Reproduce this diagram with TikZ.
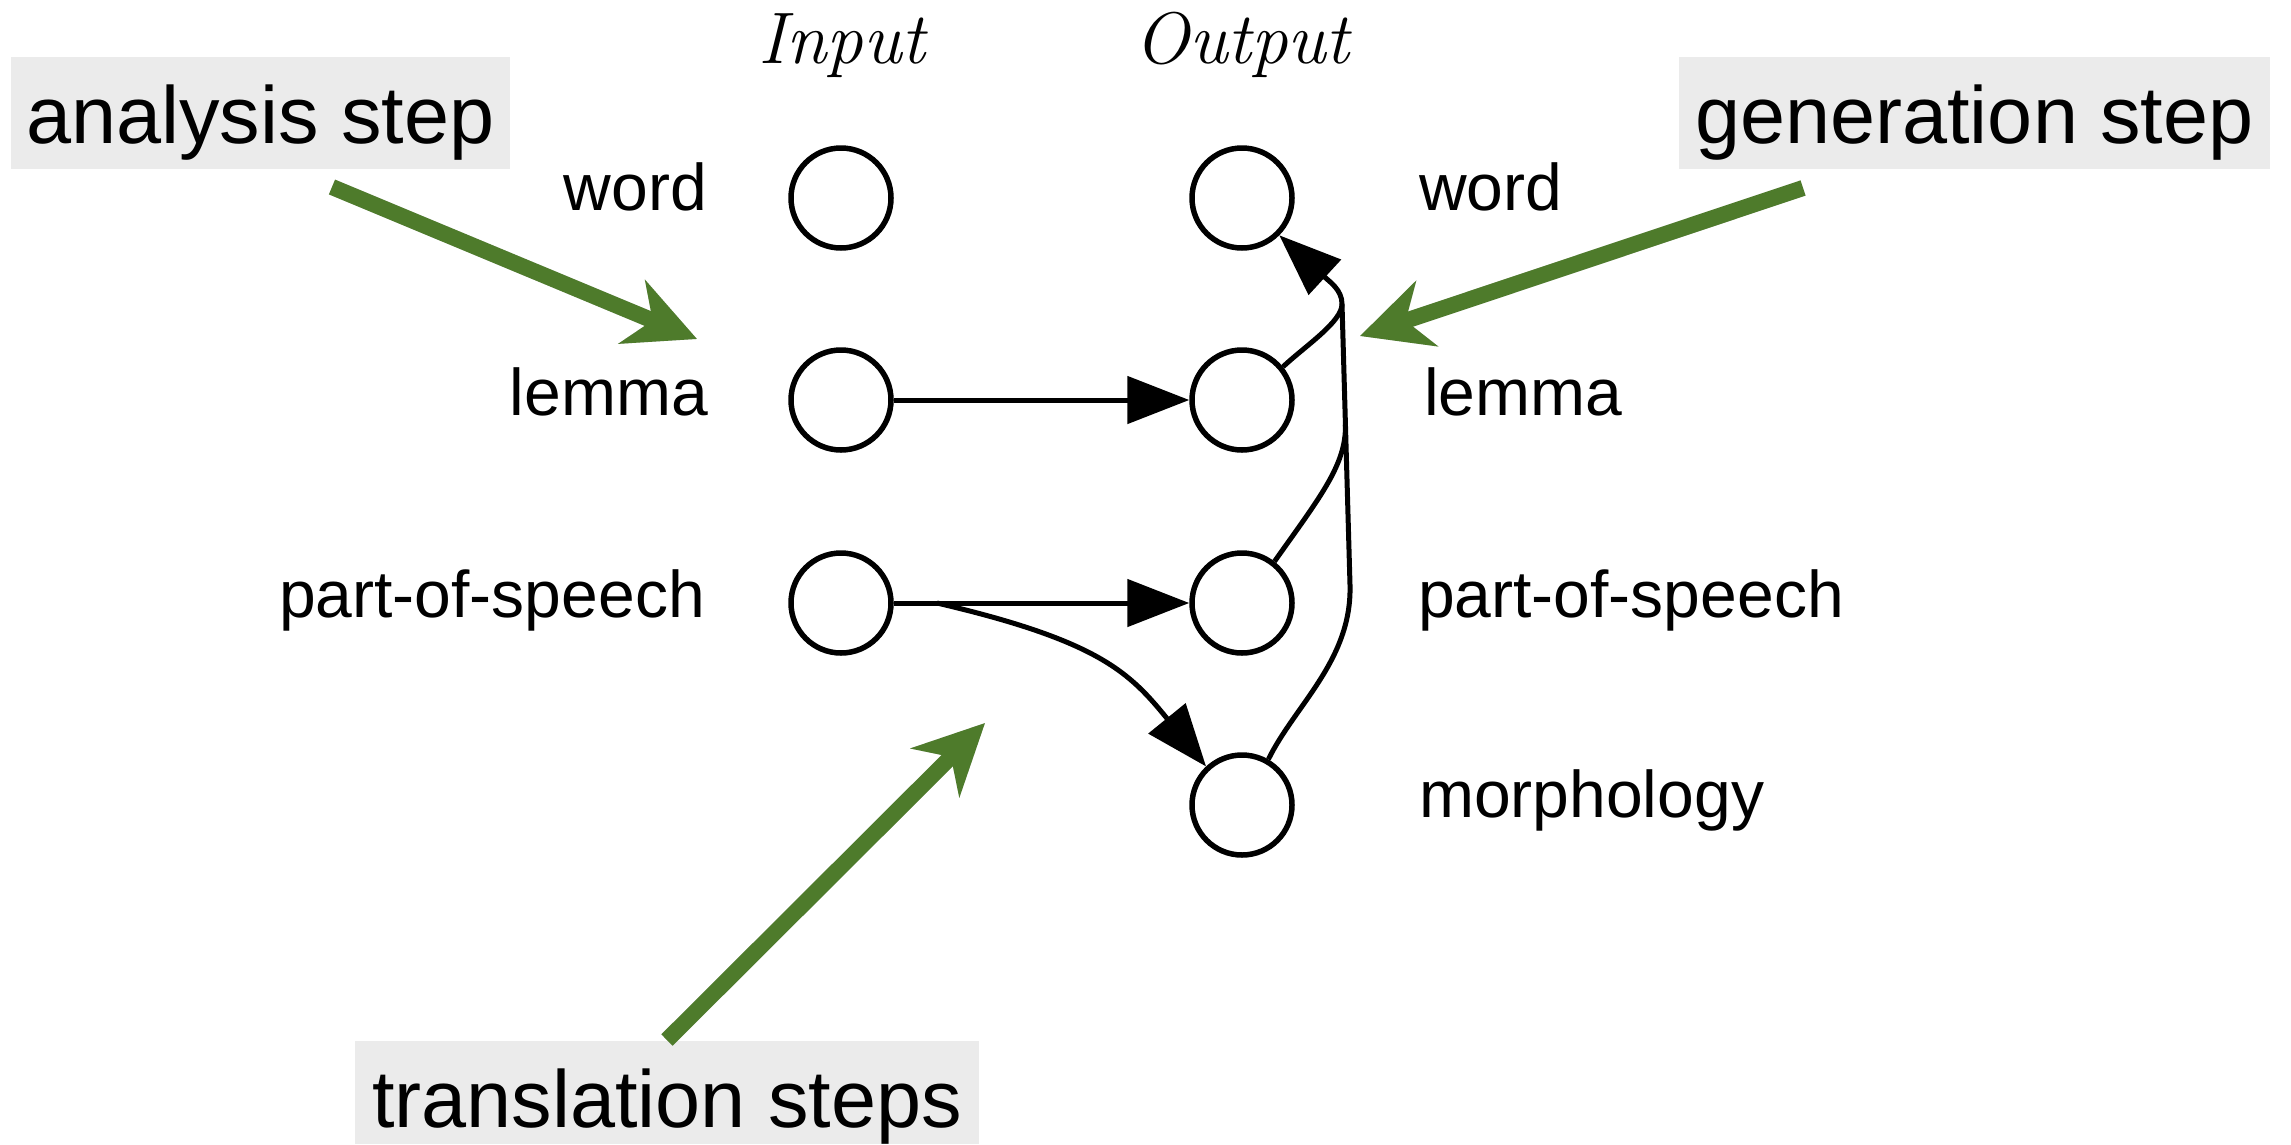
\documentclass[tikz,border=0pt]{standalone}
\usepackage{fontspec}
\newfontfamily\labelfont{Liberation Sans}
\usetikzlibrary{arrows.meta,calc}
\definecolor{stepgreen}{HTML}{4E7B2B}
\definecolor{boxgray}{HTML}{EBEBEB}

\begin{document}
\begin{tikzpicture}[x=1pt,y=-1pt,
  factor/.style={circle, draw, line width=5.5pt, minimum size=100pt, inner sep=0pt},
  lbl/.style={inner sep=0pt, font=\labelfont\fontsize{66}{79}\selectfont},
  colhead/.style={inner sep=0pt, anchor=base, font=\fontsize{73}{86}\selectfont\itshape},
  stepbox/.style={fill=boxgray, inner sep=0pt, anchor=base, text height=86pt,
    font=\labelfont\fontsize{81}{97}\selectfont},
  link/.style={line width=5pt, -{Triangle[length=62pt,width=47pt]}},
  plainlink/.style={line width=5pt},
  pointer/.style={draw=stepgreen, line width=16pt,
    -{Stealth[length=70pt,width=68pt,inset=22pt]}},
  pointershadow/.style={draw=black!18, line width=16pt,
    -{Stealth[length=70pt,width=68pt,inset=22pt]}}
]
\useasboundingbox (0,0) rectangle (2291,1144);
\fill[white] (0,0) rectangle (2291,1144);

% column headings
\node[colhead] (hin)  at (842,63)  {Input};
\node[colhead] (hout) at (1242,63) {Output};

% input factors
\node[factor] (wi) at (841,198) {};
\node[factor] (li) at (841,400) {};
\node[factor] (pi) at (841,603) {};

% output factors
\node[factor] (wo) at (1242,198) {};
\node[factor] (lo) at (1242,400) {};
\node[factor] (po) at (1242,603) {};
\node[factor] (mo) at (1242,805) {};

% factor names
\node[lbl, anchor=base east] (twi) at (707,210) {word};
\node[lbl, anchor=base east] (tli) at (708,415) {lemma};
\node[lbl, anchor=base east] (tpi) at (705,617) {part-of-speech};
\node[lbl, anchor=base west] (two) at (1419,210) {word};
\node[lbl, anchor=base west] (tlo) at (1424,415) {lemma};
\node[lbl, anchor=base west] (tpo) at (1418,617) {part-of-speech};
\node[lbl, anchor=base west] (tmo) at (1419,817) {morphology};

% translation steps
\draw[link] (li) -- (lo);
\draw[link] (pi) -- (po);
\coordinate (br) at (937,603);
\draw[link] (br) .. controls (1100,641) and (1130,673) .. (mo.133);

% generation step: three output factors merge into one trunk
\coordinate (j)  at (1342,304);
\coordinate (t1) at (1350,585);
\coordinate (mp) at ($(t1)!0.57!(j)$);
\draw[plainlink] (lo.39) .. controls (1305,346) and (1342,322) .. (j);
\draw[plainlink] (po.52) .. controls (1320,497) and ($(mp)+(0.8,40)$) .. (mp);
\draw[link] (mo.60) .. controls (1295,705) and (1352,660) .. (t1) -- (j)
  .. controls (1342,290) and (1330,282) .. (wo.-45);

% step captions
\node[stepbox, minimum width=499pt, text depth=26pt] (ana) at (260.5,143) {analysis step};
\node[stepbox, minimum width=591pt, text depth=26pt] (gen) at (1974.5,143) {generation step};
\node[stepbox, minimum width=624pt, text depth=17pt] (tra) at (667,1127) {translation steps};

% pointers to the steps
\coordinate (as) at (332,187);
\coordinate (at) at (697,339);
\coordinate (gs) at (1803,188);
\coordinate (gt) at (1360,336);
\coordinate (ts) at (667,1040);
\coordinate (tt) at (985,723);
\begin{scope}[shift={(2,3)}]
  \draw[pointershadow] (as) -- (at);
  \draw[pointershadow] (gs) -- (gt);
  \draw[pointershadow] (ts) -- (tt);
\end{scope}
\draw[pointer] (as) -- (at);
\draw[pointer] (gs) -- (gt);
\draw[pointer] (ts) -- (tt);
\end{tikzpicture}
\end{document}
